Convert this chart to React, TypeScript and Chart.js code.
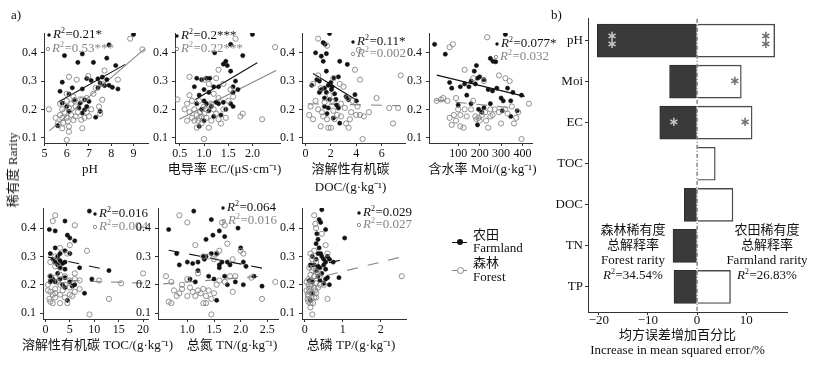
import React, { useEffect, useRef } from 'react';
import { Chart, registerables } from 'chart.js';
Chart.register(...registerables);

const SERIF = "'Liberation Serif', 'Times New Roman', 'Noto Sans CJK SC', serif";
const BLACK = '#111111';
const GRAY = '#858585';
const AXIS = '#333333';

type P = [number, number];

// ---------- data: rarity vs soil properties (farmland = filled, forest = open) ----------
const rarityTicks = [0.1, 0.2, 0.3, 0.4];

const pHFarm: P[] = [[9.0,0.465],[5.9,0.39],[6.5,0.366],[6.7,0.396],[7.2,0.366],[7.9,0.428],[7.8,0.381],[8.2,0.355],[5.8,0.296],[5.7,0.264],[6.25,0.276],[6.7,0.272],[6.9,0.309],[7.1,0.302],[7.4,0.308],[7.6,0.314],[7.8,0.305],[7.9,0.285],[8.05,0.278],[7.7,0.284],[8.3,0.272],[7.5,0.293],[7.4,0.276],[6.1,0.254],[6.35,0.234],[6.6,0.222],[5.8,0.222],[6.0,0.21],[6.1,0.193],[6.55,0.205],[6.8,0.198],[7.0,0.228],[7.5,0.193],[7.3,0.172],[6.7,0.187],[5.6,0.142],[6.8,0.234],[6.9,0.21]];
const pHForest: P[] = [[8.85,0.45],[9.4,0.412],[5.2,0.2],[6.0,0.092],[6.1,0.315],[6.45,0.305],[6.97,0.318],[7.7,0.337],[8.3,0.305],[7.3,0.276],[7.6,0.234],[7.45,0.21],[7.5,0.184],[6.9,0.24],[6.6,0.235],[6.4,0.21],[6.0,0.255],[5.7,0.22],[5.8,0.2],[5.5,0.17],[5.8,0.17],[6.0,0.17],[6.2,0.18],[6.4,0.175],[6.65,0.163],[7.0,0.175],[6.3,0.162],[5.85,0.152],[6.05,0.158],[6.1,0.139],[5.8,0.133],[6.1,0.121],[6.7,0.133],[5.6,0.15],[5.9,0.19],[6.1,0.205],[6.35,0.23],[6.7,0.235],[6.9,0.19],[7.1,0.2],[6.8,0.17],[6.2,0.22],[7.2,0.255],[7.6,0.29],[5.7,0.18],[6.5,0.19],[6.0,0.23],[6.3,0.245]];
const pHFarmFit: P[] = [[5.62,0.226],[8.63,0.359]];
const pHForestFit: P[] = [[5.22,0.124],[9.51,0.415]];

const ecFarm: P[] = [[2.0,0.465],[1.22,0.4],[1.55,0.43],[1.8,0.39],[1.45,0.37],[1.4,0.36],[1.48,0.355],[1.55,0.335],[0.85,0.31],[0.95,0.305],[1.05,0.31],[1.12,0.31],[1.2,0.28],[1.3,0.28],[1.0,0.27],[1.1,0.26],[0.8,0.28],[0.9,0.25],[1.6,0.26],[1.6,0.28],[1.65,0.3],[1.7,0.27],[1.0,0.23],[1.05,0.22],[1.15,0.21],[1.25,0.225],[1.3,0.22],[1.4,0.225],[1.55,0.22],[0.85,0.22],[0.95,0.2],[1.1,0.195],[1.2,0.175],[1.35,0.18],[1.45,0.2],[0.9,0.14],[1.0,0.16],[1.6,0.21]];
const ecForest: P[] = [[1.65,0.45],[2.47,0.42],[0.45,0.235],[0.7,0.315],[1.0,0.095],[1.3,0.34],[1.25,0.31],[1.0,0.305],[1.1,0.29],[1.2,0.255],[1.3,0.24],[1.4,0.29],[1.55,0.27],[1.6,0.245],[1.8,0.185],[1.75,0.175],[2.2,0.165],[0.6,0.2],[0.65,0.22],[0.7,0.19],[0.75,0.17],[0.8,0.2],[0.8,0.16],[0.85,0.18],[0.85,0.135],[0.9,0.17],[0.95,0.175],[0.95,0.15],[1.0,0.185],[1.05,0.2],[1.05,0.17],[1.1,0.135],[1.15,0.16],[1.2,0.2],[1.25,0.185],[1.3,0.165],[1.4,0.2],[1.45,0.17],[1.5,0.23],[0.7,0.25],[0.75,0.23],[0.9,0.23],[0.88,0.16],[0.92,0.19],[1.0,0.21],[1.15,0.22],[0.65,0.16],[1.35,0.15]];
const ecFarmFit: P[] = [[0.82,0.235],[2.1,0.365]];
const ecForestFit: P[] = [[0.49,0.165],[2.49,0.337]];

const docFarm: P[] = [[1.9,0.468],[1.4,0.436],[1.55,0.43],[0.8,0.4],[1.25,0.388],[1.65,0.397],[1.4,0.37],[2.7,0.37],[3.3,0.359],[0.5,0.285],[0.9,0.305],[1.1,0.3],[1.25,0.27],[1.5,0.275],[1.8,0.285],[2.0,0.295],[2.25,0.311],[2.6,0.315],[1.65,0.26],[2.05,0.27],[2.3,0.255],[1.9,0.235],[2.4,0.235],[3.2,0.245],[3.9,0.252],[4.0,0.23],[1.65,0.335],[3.4,0.234],[2.6,0.205],[2.7,0.151],[2.2,0.169],[1.5,0.21],[1.8,0.205],[2.45,0.215],[1.7,0.185],[1.5,0.24],[1.1,0.26],[2.1,0.28]];
const docForest: P[] = [[1.0,0.45],[1.7,0.425],[4.2,0.41],[7.5,0.32],[5.6,0.24],[6.6,0.205],[7.3,0.205],[6.9,0.15],[4.5,0.095],[3.9,0.34],[4.3,0.305],[2.2,0.31],[2.7,0.29],[3.0,0.28],[1.0,0.32],[0.6,0.29],[1.2,0.275],[0.8,0.23],[1.5,0.225],[2.1,0.23],[3.3,0.24],[3.7,0.23],[4.1,0.21],[4.3,0.18],[4.6,0.175],[5.0,0.19],[4.0,0.18],[3.5,0.165],[3.2,0.15],[3.4,0.135],[2.8,0.175],[2.5,0.18],[2.3,0.165],[1.7,0.165],[1.4,0.175],[1.2,0.14],[1.8,0.135],[2.0,0.135],[0.3,0.18],[0.6,0.165],[1.0,0.2],[2.8,0.22],[3.1,0.205],[1.3,0.19],[2.2,0.195],[3.6,0.19],[0.4,0.21],[1.9,0.25]];
const docFarmFit: P[] = [[0.6,0.327],[4.2,0.228]];
const docForestFit: P[] = [[0.2,0.22],[7.45,0.213]];

const moiFarm: P[] = [[-10,0.43],[40,0.395],[320,0.465],[250,0.38],[262,0.37],[275,0.368],[185,0.355],[175,0.335],[190,0.31],[200,0.315],[220,0.305],[180,0.29],[130,0.29],[150,0.28],[110,0.28],[60,0.295],[70,0.275],[240,0.27],[260,0.265],[280,0.275],[330,0.275],[355,0.26],[395,0.25],[310,0.23],[345,0.23],[160,0.22],[220,0.205],[195,0.2],[100,0.215],[305,0.195],[375,0.195],[345,0.175],[190,0.145],[210,0.19],[250,0.22],[140,0.25],[300,0.24],[160,0.3]];
const moiForest: P[] = [[60,0.42],[75,0.43],[235,0.455],[130,0.34],[170,0.31],[220,0.3],[290,0.32],[320,0.31],[340,0.3],[430,0.22],[395,0.095],[360,0.15],[370,0.17],[380,0.19],[20,0.235],[30,0.24],[0,0.23],[50,0.23],[90,0.24],[100,0.2],[110,0.18],[130,0.2],[140,0.175],[60,0.17],[80,0.18],[90,0.16],[110,0.14],[125,0.135],[70,0.145],[180,0.175],[185,0.165],[195,0.17],[200,0.16],[210,0.18],[225,0.19],[230,0.16],[240,0.135],[250,0.175],[260,0.18],[270,0.2],[290,0.19],[300,0.15],[320,0.2],[330,0.185],[350,0.21],[250,0.2],[170,0.23],[160,0.2]];
const moiFarmFit: P[] = [[0,0.321],[410,0.246]];
const moiForestFit: P[] = [[-10,0.233],[380,0.203]];

const tocFarm: P[] = [[9,0.46],[4,0.425],[0.8,0.395],[2,0.39],[4.5,0.375],[5,0.365],[6,0.355],[2,0.33],[4,0.32],[1,0.31],[3,0.31],[5,0.31],[1.5,0.29],[2,0.28],[2.5,0.3],[3,0.285],[3.5,0.275],[4,0.28],[2.5,0.27],[3,0.26],[4,0.255],[7,0.26],[1,0.23],[1.5,0.22],[2,0.21],[3,0.22],[4,0.225],[5,0.21],[5.5,0.195],[6,0.2],[1,0.21],[3.5,0.2],[4,0.19],[4.5,0.145],[8,0.17],[9.5,0.22],[13,0.25],[2.5,0.24]];
const tocForest: P[] = [[2,0.445],[1.5,0.425],[6,0.41],[8.5,0.32],[20,0.24],[21,0.205],[15.5,0.205],[11,0.215],[13,0.15],[9,0.095],[5,0.34],[4.5,0.31],[3,0.33],[2,0.3],[1,0.28],[2,0.265],[3,0.26],[1,0.23],[2,0.225],[3,0.235],[4,0.23],[5,0.215],[6,0.22],[7,0.215],[7,0.185],[6,0.175],[5.5,0.16],[4,0.155],[3,0.165],[2,0.17],[1.5,0.165],[1,0.175],[0.5,0.18],[0.5,0.2],[1,0.14],[1.5,0.135],[3,0.135],[4.5,0.135],[2,0.185],[3,0.2],[4,0.2],[5,0.19],[6,0.24],[2.5,0.21],[0.8,0.15],[3.5,0.18],[5,0.165],[2,0.155]];
const tocFarmFit: P[] = [[0.5,0.298],[13,0.251]];
const tocForestFit: P[] = [[0.5,0.218],[21,0.205]];

const tnFarm: P[] = [[0.65,0.395],[1.12,0.46],[1.45,0.43],[1.6,0.39],[1.48,0.375],[1.7,0.37],[1.95,0.4],[1.35,0.36],[0.8,0.31],[0.85,0.27],[1.0,0.28],[1.1,0.275],[1.2,0.28],[1.3,0.3],[1.32,0.29],[1.45,0.31],[1.55,0.31],[1.6,0.27],[1.65,0.28],[1.75,0.28],[1.8,0.27],[2.0,0.33],[2.05,0.28],[2.1,0.265],[2.25,0.23],[2.4,0.195],[2.05,0.2],[1.9,0.21],[1.2,0.25],[1.4,0.23],[1.5,0.22],[1.7,0.23],[1.75,0.2],[1.05,0.22],[1.15,0.21],[1.55,0.145],[1.35,0.3],[1.6,0.26]];
const tnForest: P[] = [[0.85,0.445],[1.0,0.42],[1.65,0.42],[1.7,0.41],[1.75,0.345],[1.15,0.34],[1.3,0.3],[1.4,0.3],[1.5,0.29],[1.55,0.31],[1.6,0.32],[2.0,0.32],[2.05,0.31],[1.85,0.29],[2.2,0.225],[2.65,0.21],[2.4,0.15],[1.85,0.175],[1.45,0.095],[0.6,0.23],[0.7,0.21],[0.75,0.18],[0.8,0.16],[0.85,0.17],[0.9,0.185],[1.0,0.16],[1.05,0.19],[1.1,0.175],[1.15,0.16],[1.2,0.18],[1.25,0.17],[1.3,0.185],[1.35,0.16],[1.35,0.135],[1.4,0.18],[1.45,0.15],[1.5,0.17],[1.55,0.2],[1.6,0.215],[1.7,0.21],[1.8,0.23],[1.9,0.23],[0.65,0.14],[0.7,0.135],[1.0,0.22],[1.2,0.24],[0.9,0.2],[1.3,0.135]];
const tnFarmFit: P[] = [[0.65,0.322],[2.5,0.255]];
const tnForestFit: P[] = [[0.55,0.203],[2.4,0.23]];

const tpFarm: P[] = [[0.45,0.465],[0.38,0.43],[0.42,0.42],[0.55,0.395],[1.05,0.365],[0.32,0.38],[0.35,0.36],[0.3,0.345],[0.38,0.33],[0.42,0.31],[0.35,0.31],[0.2,0.3],[0.3,0.29],[0.45,0.3],[0.5,0.29],[0.55,0.28],[0.6,0.3],[0.65,0.29],[0.75,0.28],[0.15,0.27],[0.25,0.27],[0.35,0.265],[0.4,0.26],[0.5,0.27],[0.55,0.255],[0.3,0.25],[0.45,0.24],[0.35,0.23],[0.55,0.22],[0.6,0.225],[0.9,0.225],[0.12,0.215],[0.2,0.21],[0.4,0.215],[0.5,0.205],[0.65,0.2],[0.2,0.17],[0.15,0.145]];
const tpForest: P[] = [[0.25,0.445],[0.28,0.415],[0.3,0.4],[0.45,0.38],[0.55,0.34],[0.15,0.31],[0.25,0.32],[0.6,0.31],[0.2,0.29],[0.3,0.28],[0.12,0.26],[0.2,0.25],[0.3,0.245],[0.35,0.24],[0.15,0.235],[0.25,0.23],[0.1,0.22],[0.2,0.215],[0.3,0.205],[0.1,0.2],[0.15,0.195],[0.25,0.19],[0.35,0.19],[0.05,0.18],[0.12,0.175],[0.2,0.17],[0.3,0.17],[0.1,0.16],[0.18,0.155],[0.25,0.155],[0.1,0.14],[0.15,0.135],[0.22,0.135],[0.08,0.15],[0.6,0.15],[0.2,0.095],[2.55,0.23],[0.3,0.155],[0.4,0.2],[0.12,0.185],[0.05,0.21],[0.18,0.2],[0.28,0.18],[0.08,0.165],[0.22,0.26],[0.4,0.23],[0.15,0.12],[0.5,0.2]];
const tpFarmFit: P[] = [[0.1,0.262],[0.95,0.287]];
const tpForestFit: P[] = [[0.05,0.215],[2.6,0.3]];

const r2Farm = ['0.21*', '0.2***', '0.11*', '0.077*', '0.016', '0.064', '0.029'];
const r2Forest = ['0.53***', '0.22***', '0.002', '0.032', '0.004', '0.016', '0.027'];

// ---------- data: random forest importance (%IncMSE) ----------
const barCats = ['pH', 'Moi', 'EC', 'TOC', 'DOC', 'TN', 'TP'];
const forestIncMSE: (number | null)[] = [-20.3, -5.6, -7.6, null, -2.6, -4.9, -4.7];
const farmIncMSE: (number | null)[] = [15.8, 9.0, 11.2, 3.7, 7.3, null, 6.8];
const forestStars = [2, 0, 1, 0, 0, 0, 0];
const forestStarX = [-17.3, 0, -4.7, 0, 0, 0, 0];
const farmStars = [2, 1, 1, 0, 0, 0, 0];
const farmStarX = [14.0, 7.7, 9.8, 0, 0, 0, 0];
const barTicks = [-20, -10, 0, 10];
const barTickLabels = ['−20', '−10', '0', '10'];
const forestTotalR2 = '34.54%';
const farmTotalR2 = '26.83%';

// ---------- layout ----------
const ML = 34, MT = 14, MR = 30;

type Panel = {
  area: [number, number, number, number];
  yMin: number; yMax: number;
  xMin: number; xMax: number;
  xTicks: number[]; xTickLabels: string[];
  title: string[]; titleDx: number;
  farm: P[]; forest: P[]; farmFit: P[]; forestFit: P[];
  farmDash: boolean; forestDash: boolean;
  r2Pos: [[number, number], [number, number]];
  xAxisH: number;
};

const panels: Panel[] = [
  { area: [44, 33, 104, 110], yMin: 0.081, yMax: 0.47, xMin: 4.98, xMax: 9.65, xTicks: [5, 6, 7, 8, 9], xTickLabels: ['5', '6', '7', '8', '9'], title: ['pH'], titleDx: -6, farm: pHFarm, forest: pHForest, farmFit: pHFarmFit, forestFit: pHForestFit, farmDash: false, forestDash: false, r2Pos: [[5, 2], [4, 16]], xAxisH: 56 },
  { area: [175, 33, 105, 110], yMin: 0.081, yMax: 0.47, xMin: 0.4, xMax: 2.57, xTicks: [0.5, 1.0, 1.5, 2.0], xTickLabels: ['0.5', '1.0', '1.5', '2.0'], title: ['电导率 EC/(μS·cm⁻¹)'], titleDx: -3, farm: ecFarm, forest: ecForest, farmFit: ecFarmFit, forestFit: ecForestFit, farmDash: false, forestDash: false, r2Pos: [[2, 3], [2, 16]], xAxisH: 56 },
  { area: [302, 33, 103, 110], yMin: 0.081, yMax: 0.47, xMin: -0.27, xMax: 7.84, xTicks: [0, 2, 4, 6], xTickLabels: ['0', '2', '4', '6'], title: ['溶解性有机碳', 'DOC/(g·kg⁻¹)'], titleDx: -3, farm: docFarm, forest: docForest, farmFit: docFarmFit, forestFit: docForestFit, farmDash: false, forestDash: true, r2Pos: [[51, 9], [51, 21]], xAxisH: 56 },
  { area: [429, 33, 103, 110], yMin: 0.081, yMax: 0.47, xMin: -36, xMax: 444, xTicks: [100, 200, 300, 400], xTickLabels: ['100', '200', '300', '400'], title: ['含水率 Moi/(g·kg⁻¹)'], titleDx: 2, farm: moiFarm, forest: moiForest, farmFit: moiFarmFit, forestFit: moiForestFit, farmDash: false, forestDash: true, r2Pos: [[68, 11], [67, 24]], xAxisH: 56 },
  { area: [43, 208, 105, 111], yMin: 0.079, yMax: 0.471, xMin: -0.5, xMax: 21, xTicks: [0, 5, 10, 15, 20], xTickLabels: ['0', '5', '10', '15', '20'], title: ['溶解性有机碳 TOC/(g·kg⁻¹)'], titleDx: 2, farm: tocFarm, forest: tocForest, farmFit: tocFarmFit, forestFit: tocForestFit, farmDash: true, forestDash: true, r2Pos: [[52, 6], [52, 19]], xAxisH: 40 },
  { area: [158, 208, 120, 111], yMin: 0.079, yMax: 0.471, xMin: 0.45, xMax: 2.7, xTicks: [1.0, 1.5, 2.0, 2.5], xTickLabels: ['1.0', '1.5', '2.0', '2.5'], title: ['总氮 TN/(g·kg⁻¹)'], titleDx: 14, farm: tnFarm, forest: tnForest, farmFit: tnFarmFit, forestFit: tnForestFit, farmDash: true, forestDash: true, r2Pos: [[65, 0], [66, 13]], xAxisH: 40 },
  { area: [302, 208, 104, 111], yMin: 0.079, yMax: 0.471, xMin: -0.07, xMax: 2.66, xTicks: [0, 1, 2], xTickLabels: ['0', '1', '2'], title: ['总磷 TP/(g·kg⁻¹)'], titleDx: -3, farm: tpFarm, forest: tpForest, farmFit: tpFarmFit, forestFit: tpForestFit, farmDash: true, forestDash: true, r2Pos: [[57, 5], [57, 17]], xAxisH: 40 },
];

const BAR_AREA = { l: 588, t: 15, r: 787, b: 312 };
const BAR_ML = 40, BAR_MT = 6, BAR_MR = 20, BAR_MB = 52;

// ---------- drawing helpers ----------
function drawR2(ctx: CanvasRenderingContext2D, x: number, y: number, value: string, color: string, size: number, align: 'left' | 'center') {
  const fItal = `italic ${size}px ${SERIF}`;
  const fNorm = `${size}px ${SERIF}`;
  const fSup = `${Math.round(size * 0.62)}px ${SERIF}`;
  ctx.save();
  ctx.fillStyle = color;
  ctx.textBaseline = 'middle';
  ctx.textAlign = 'left';
  ctx.font = fItal; const wR = ctx.measureText('R').width;
  ctx.font = fSup; const w2 = ctx.measureText('2').width;
  ctx.font = fNorm; const wV = ctx.measureText('=' + value).width;
  const total = wR + w2 + 0.5 + wV;
  let cx = align === 'center' ? x - total / 2 : x;
  ctx.font = fItal; ctx.fillText('R', cx, y); cx += wR;
  ctx.font = fSup; ctx.fillText('2', cx, y - size * 0.32); cx += w2 + 0.5;
  ctx.font = fNorm; ctx.fillText('=' + value, cx, y);
  ctx.restore();
}

const scatterDecor = {
  id: 'scatterDecor',
  afterDraw(chart: any, _args: any, opts: any) {
    const { ctx, chartArea } = chart;
    const items = opts.items as { dx: number; dy: number; color: string; filled: boolean; text: string }[];
    items.forEach((it) => {
      const x = chartArea.left + it.dx;
      const y = chartArea.top + it.dy;
      ctx.save();
      ctx.beginPath();
      ctx.arc(x, y, 1.7, 0, Math.PI * 2);
      if (it.filled) { ctx.fillStyle = it.color; ctx.fill(); }
      else { ctx.strokeStyle = it.color; ctx.lineWidth = 0.9; ctx.stroke(); }
      ctx.restore();
      drawR2(ctx, x + 4, y, it.text, it.color, 13, 'left');
    });
    const lines = opts.title as string[];
    ctx.save();
    ctx.fillStyle = BLACK;
    ctx.textAlign = 'center';
    ctx.textBaseline = 'middle';
    ctx.font = `13px ${SERIF}`;
    const cx = (chartArea.left + chartArea.right) / 2 + opts.titleDx;
    lines.forEach((t, i) => ctx.fillText(t, cx, chartArea.bottom + 27 + i * 18));
    ctx.restore();
  },
};

function axisCommon() {
  return {
    offset: false,
    grid: { drawOnChartArea: false, drawTicks: true, tickLength: 3, color: AXIS, lineWidth: 1, offset: false },
    border: { display: true, color: AXIS, width: 1 },
  };
}

function makeScatter(canvas: HTMLCanvasElement, p: Panel, idx: number) {
  const pts = (a: P[]) => a.map(([x, y]) => ({ x, y }));
  return new Chart(canvas, {
    type: 'scatter',
    data: {
      datasets: [
        { data: pts(p.forest), pointRadius: 2.6, pointBorderWidth: 0.9, pointBackgroundColor: 'rgba(255,255,255,0)', pointBorderColor: GRAY, showLine: false },
        { data: pts(p.farm), pointRadius: 2.1, pointBorderWidth: 0.6, pointBackgroundColor: BLACK, pointBorderColor: BLACK, showLine: false },
        { data: pts(p.forestFit), showLine: true, borderColor: GRAY, borderWidth: 1.1, borderDash: p.forestDash ? [11, 10] : [], pointRadius: 0 },
        { data: pts(p.farmFit), showLine: true, borderColor: BLACK, borderWidth: 1.1, borderDash: p.farmDash ? [11, 10] : [], pointRadius: 0 },
      ],
    } as any,
    options: {
      animation: false,
      responsive: false,
      events: [],
      layout: { padding: { left: 0, top: MT, right: MR, bottom: 0 } },
      plugins: {
        legend: { display: false },
        tooltip: { enabled: false },
        scatterDecor: {
          items: [
            { dx: p.r2Pos[0][0], dy: p.r2Pos[0][1], color: BLACK, filled: true, text: r2Farm[idx] },
            { dx: p.r2Pos[1][0], dy: p.r2Pos[1][1], color: GRAY, filled: false, text: r2Forest[idx] },
          ],
          title: p.title,
          titleDx: p.titleDx,
        },
      } as any,
      scales: {
        x: {
          type: 'linear', min: p.xMin, max: p.xMax,
          afterBuildTicks: (s: any) => { s.ticks = p.xTicks.map((v) => ({ value: v })); },
          afterFit: (s: any) => { s.height = p.xAxisH; },
          ticks: { callback: (_v: any, i: number) => p.xTickLabels[i], font: { family: SERIF, size: 12 }, color: BLACK, padding: 1, maxRotation: 0, minRotation: 0, autoSkip: false },
          ...axisCommon(),
        },
        y: {
          type: 'linear', min: p.yMin, max: p.yMax,
          afterBuildTicks: (s: any) => { s.ticks = rarityTicks.map((v) => ({ value: v })); },
          afterFit: (s: any) => { s.width = ML; },
          ticks: { callback: (v: any) => Number(v).toFixed(1), font: { family: SERIF, size: 12 }, color: BLACK, padding: 4, autoSkip: false },
          ...axisCommon(),
        },
      },
    } as any,
    plugins: [scatterDecor],
  });
}

const barDecor = {
  id: 'barDecor',
  afterDatasetsDraw(chart: any) {
    const { ctx, chartArea, scales } = chart;
    const xs = scales.x, ys = scales.y;
    const x0 = xs.getPixelForValue(0);
    ctx.save();
    ctx.strokeStyle = '#444';
    ctx.lineWidth = 1;
    ctx.setLineDash([4, 2, 1, 2]);
    ctx.beginPath();
    ctx.moveTo(x0, chartArea.top);
    ctx.lineTo(x0, chartArea.bottom);
    ctx.stroke();
    ctx.restore();
    const drawStars = (n: number, xv: number, i: number, color: string) => {
      if (!n) return;
      const px = xs.getPixelForValue(xv);
      const py = ys.getPixelForValue(i);
      ctx.save();
      ctx.fillStyle = color;
      ctx.font = `bold 13px 'DejaVu Sans', sans-serif`;
      ctx.textAlign = 'center';
      ctx.textBaseline = 'middle';
      if (n === 2) { ctx.fillText('∗', px, py - 3.8); ctx.fillText('∗', px, py + 3.8); }
      else ctx.fillText('∗', px, py);
      ctx.restore();
    };
    barCats.forEach((_c, i) => {
      drawStars(forestStars[i], forestStarX[i], i, '#c4c4c4');
      drawStars(farmStars[i], farmStarX[i], i, '#6f6f6f');
    });
  },
  afterDraw(chart: any) {
    const { ctx, chartArea } = chart;
    ctx.save();
    ctx.fillStyle = BLACK;
    ctx.textAlign = 'center';
    ctx.textBaseline = 'middle';
    ctx.font = `13px ${SERIF}`;
    const L = chartArea.left, T = chartArea.top;
    const fx = L + 45, gx = L + 179;
    ctx.fillText('森林稀有度', fx, T + 212);
    ctx.fillText('总解释率', fx, T + 227);
    ctx.fillText('Forest rarity', fx, T + 242);
    drawR2(ctx, fx, T + 257, forestTotalR2, BLACK, 13, 'center');
    ctx.fillText('农田稀有度', gx, T + 212);
    ctx.fillText('总解释率', gx, T + 227);
    ctx.fillText('Farmland rarity', gx, T + 242);
    drawR2(ctx, gx, T + 257, farmTotalR2, BLACK, 13, 'center');
    const tx = L + 89.5;
    ctx.fillText('均方误差增加百分比', tx, chartArea.bottom + 24);
    ctx.fillText('Increase in mean squared error/%', tx, chartArea.bottom + 39);
    ctx.restore();
  },
};

function makeBar(canvas: HTMLCanvasElement) {
  const toData = (vals: (number | null)[]) => vals.map((v, i) => (v === null ? null : { x: v, y: i })).filter((d) => d !== null);
  return new Chart(canvas, {
    type: 'bar',
    data: {
      datasets: [
        { label: '森林 Forest', data: toData(forestIncMSE), backgroundColor: '#3a3a3a', borderColor: '#2e2e2e', borderWidth: 1, barThickness: 33, grouped: false },
        { label: '农田 Farmland', data: toData(farmIncMSE), backgroundColor: '#ffffff', borderColor: '#4a4a4a', borderWidth: 1.4, barThickness: 33, grouped: false },
      ],
    } as any,
    options: {
      animation: false,
      responsive: false,
      events: [],
      indexAxis: 'y',
      layout: { padding: { left: 0, top: BAR_MT, right: BAR_MR, bottom: 0 } },
      plugins: { legend: { display: false }, tooltip: { enabled: false } },
      scales: {
        x: {
          type: 'linear', min: -22.2, max: 18.3,
          afterBuildTicks: (s: any) => { s.ticks = barTicks.map((v) => ({ value: v })); },
          afterFit: (s: any) => { s.height = BAR_MB; },
          ticks: { callback: (_v: any, i: number) => barTickLabels[i], font: { family: SERIF, size: 13 }, color: BLACK, padding: -2, maxRotation: 0, autoSkip: false },
          ...axisCommon(),
        },
        y: {
          type: 'linear', min: -0.53, max: 6.61, reverse: true,
          afterBuildTicks: (s: any) => { s.ticks = barCats.map((_c, i) => ({ value: i })); },
          afterFit: (s: any) => { s.width = BAR_ML; },
          ticks: { callback: (v: any) => barCats[Math.round(Number(v))], font: { family: SERIF, size: 13 }, color: BLACK, padding: 2, autoSkip: false },
          ...axisCommon(),
        },
      },
    } as any,
    plugins: [barDecor],
  });
}

const txt: React.CSSProperties = { position: 'absolute', fontFamily: SERIF, fontSize: 13, color: BLACK, lineHeight: '14px', whiteSpace: 'nowrap' };

export default function App() {
  const refs = useRef<(HTMLCanvasElement | null)[]>([]);
  useEffect(() => {
    const charts: Chart[] = panels.map((p, i) => makeScatter(refs.current[i]!, p, i));
    charts.push(makeBar(refs.current[panels.length]!));
    return () => charts.forEach((c) => c.destroy());
  }, []);

  const barW = BAR_ML + (BAR_AREA.r - BAR_AREA.l) + BAR_MR;
  const barH = BAR_MT + (BAR_AREA.b - BAR_AREA.t) + BAR_MB;

  return (
    <div style={{ position: 'absolute', left: 0, top: 0, width: 814, height: 367, background: '#ffffff', overflow: 'hidden' }}>
      {panels.map((p, i) => {
        const [l, t, w, h] = p.area;
        return (
          <canvas
            key={i}
            ref={(el) => { refs.current[i] = el; }}
            width={ML + w + MR}
            height={MT + h + p.xAxisH}
            style={{ position: 'absolute', left: l - ML, top: t - MT }}
          />
        );
      })}
      <canvas
        ref={(el) => { refs.current[panels.length] = el; }}
        width={barW}
        height={barH}
        style={{ position: 'absolute', left: BAR_AREA.l - BAR_ML, top: BAR_AREA.t - BAR_MT }}
      />
      <div style={{ ...txt, left: 11, top: 8 }}>a)</div>
      <div style={{ ...txt, left: 551, top: 8 }}>b)</div>
      <div style={{ ...txt, left: 13, top: 170, transform: 'translate(-50%, -50%) rotate(-90deg)' }}>稀有度 Rarity</div>
      <div style={{ position: 'absolute', left: 452, top: 241.5, width: 15, height: 1.2, background: BLACK }} />
      <div style={{ position: 'absolute', left: 456.5, top: 239, width: 6, height: 6, borderRadius: '50%', background: BLACK }} />
      <div style={{ ...txt, left: 473, top: 228 }}>农田</div>
      <div style={{ ...txt, left: 473, top: 241 }}>Farmland</div>
      <div style={{ position: 'absolute', left: 452, top: 269.5, width: 15, height: 1.2, background: GRAY }} />
      <div style={{ position: 'absolute', left: 456.5, top: 267, width: 5, height: 5, borderRadius: '50%', background: '#fff', border: `1px solid ${GRAY}` }} />
      <div style={{ ...txt, left: 473, top: 256 }}>森林</div>
      <div style={{ ...txt, left: 473, top: 270 }}>Forest</div>
    </div>
  );
}
